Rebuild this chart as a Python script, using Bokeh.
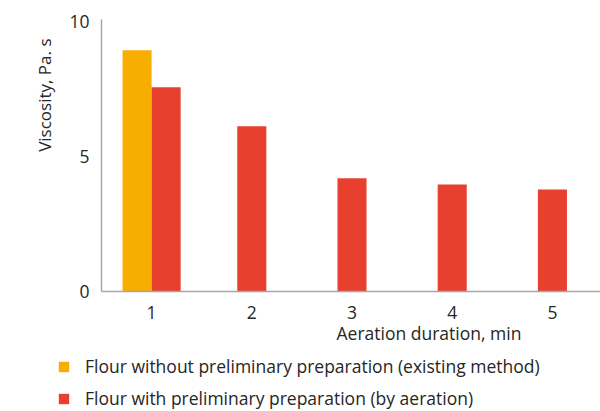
from bokeh.plotting import figure
from bokeh.layouts import column
from bokeh.models import Range1d, FixedTicker, Legend, LegendItem, Title, ColumnDataSource
from bokeh.embed import file_html
from bokeh.resources import INLINE

# ---- data ----
durations = [1, 2, 3, 4, 5]
tick_labels = ["1", "2", "3", "4", "5"]
without_prep_x = [1]
without_prep = [8.93]
with_prep = [7.56, 6.12, 4.19, 3.96, 3.78]
series_names = ["Flour without preliminary preparation (existing method)",
                "Flour with preliminary preparation (by aeration)"]
y_title = "Viscosity, Pa. s"
x_title = "Aeration duration, min"

ORANGE = "#F8AE00"
RED = "#E8402E"
TXT = "#262626"
FONT = "Open Sans"

bw = 0.29
off = 0.145
red_x = [d + (off if d in without_prep_x else 0) for d in durations]
org_x = [d - off for d in without_prep_x]

W = 600
H_MAIN = 350
H_LEG = 411 - H_MAIN

p = figure(width=W, height=H_MAIN, output_backend="svg", toolbar_location=None,
           x_range=Range1d(0.5, 5.48), y_range=Range1d(0, 10.07),
           min_border_left=101, min_border_right=0, min_border_top=19, min_border_bottom=59)
p.outline_line_color = None
p.grid.visible = False

src_o = ColumnDataSource(dict(x=org_x, top=without_prep))
src_r = ColumnDataSource(dict(x=red_x, top=with_prep))
p.vbar(x="x", top="top", width=bw, bottom=0, source=src_o, fill_color=ORANGE, line_color=None)
p.vbar(x="x", top="top", width=bw, bottom=0, source=src_r, fill_color=RED, line_color=None)

for ax in (p.xaxis[0], p.yaxis[0]):
    ax.axis_line_color = "#A6A6A6"
    ax.axis_line_width = 1.5
    ax.major_tick_line_color = None
    ax.minor_tick_line_color = None
    ax.major_label_text_font = FONT
    ax.major_label_text_font_size = "17.5px"
    ax.major_label_text_color = TXT

p.xaxis.ticker = FixedTicker(ticks=durations)
p.xaxis.major_label_overrides = {d: t for d, t in zip(durations, tick_labels)}
p.xaxis.major_label_standoff = 8
p.yaxis.ticker = FixedTicker(ticks=[0, 5, 10])
p.yaxis.major_label_standoff = 6

# axis titles (placed off-centre as in the reference)
yt = Title(text=y_title, align="right", offset=19, text_font=FONT, text_font_size="17px",
           text_font_style="normal", text_color=TXT, standoff=22)
p.add_layout(yt, "left")
xt = Title(text=x_title, align="left", offset=235, text_font=FONT, text_font_size="17.5px",
           text_font_style="normal", text_color=TXT, standoff=-6)
p.add_layout(xt, "below")

# ---- legend (separate strip below the chart) ----
lf = figure(width=W, height=H_LEG, output_backend="svg", toolbar_location=None,
            x_range=Range1d(100, 101), y_range=Range1d(100, 101),
            min_border=0, min_border_left=0, x_axis_type=None, y_axis_type=None)
lf.outline_line_color = None
lf.grid.visible = False
for fig in (p, lf):
    try:
        fig.frame_align = False
    except Exception:
        pass
k_o = lf.vbar(x="x", top="top", width=bw, source=src_o, fill_color=ORANGE, line_color=None)
k_r = lf.vbar(x="x", top="top", width=bw, source=src_r, fill_color=RED, line_color=None)
legend = Legend(items=[LegendItem(label=series_names[0], renderers=[k_o]),
                       LegendItem(label=series_names[1], renderers=[k_r])],
                orientation="vertical", location=(57, 1))
legend.label_text_font = FONT
legend.label_text_font_size = "17.5px"
legend.label_text_color = TXT
legend.glyph_width = 13
legend.glyph_height = 13
legend.label_height = 13
legend.label_standoff = 15
legend.spacing = 8
legend.padding = 0
legend.margin = 0
legend.border_line_color = None
legend.background_fill_alpha = 0
lf.add_layout(legend)

layout = column(p, lf, spacing=0)
open("out.html", "w").write(file_html(layout, INLINE))
